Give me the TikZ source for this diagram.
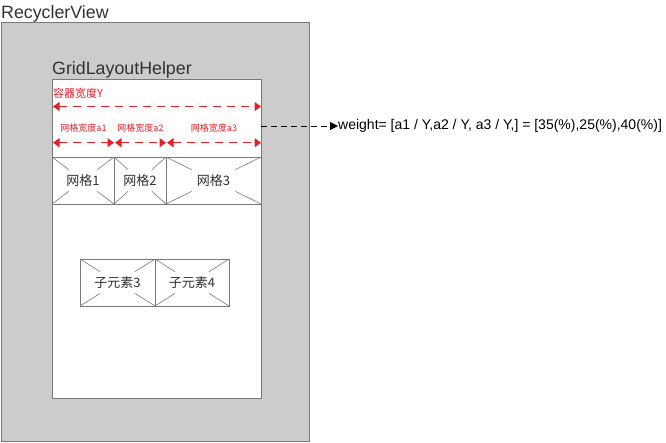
\documentclass[tikz,border=0pt]{standalone}
\usepackage{fontspec}
\setmainfont{Liberation Sans}
\newfontfamily\cjk{Noto Sans CJK SC}
\usetikzlibrary{arrows.meta,calc}
\definecolor{redline}{RGB}{230,30,40}
\definecolor{boxgray}{RGB}{204,204,204}
\definecolor{edgegray}{RGB}{120,120,120}
\definecolor{txt}{RGB}{50,50,50}
\begin{document}
\begin{tikzpicture}[x=1pt,y=-1pt,
  outerbox/.style={draw=edgegray,fill=boxgray,line width=1pt,inner sep=0,outer sep=0,anchor=north west},
  innerbox/.style={draw=edgegray,fill=white,line width=1pt,inner sep=0,outer sep=0,anchor=north west},
  cellbox/.style={draw=edgegray,fill=white,line width=1pt,inner sep=0,outer sep=0,anchor=north west,minimum height=47pt},
  crossline/.style={draw=edgegray,line width=0.6pt},
  celllabel/.style={inner sep=0pt,text=txt,font=\cjk\fontsize{13}{13}\selectfont},
  title/.style={anchor=base west,inner sep=0,text=txt,font=\fontsize{17.8}{17.8}\selectfont},
  redarrow/.style={draw=redline,line width=1.3pt,dash pattern=on 8pt off 6pt,{Triangle[length=6.5pt,width=9pt]}-{Triangle[length=6.5pt,width=9pt]}},
  redlabel/.style={text=redline,inner sep=0},
  blackarrow/.style={draw=black,line width=1pt,dash pattern=on 6pt off 4pt,-{Triangle[length=8pt,width=8pt]}}
]
\useasboundingbox (0,0) rectangle (666,442);
% containers
\node[outerbox,minimum width=308pt,minimum height=419pt] (rv) at (1,22) {};
\node[title] (rvt) at (1,18) {RecyclerView};
\node[innerbox,minimum width=209pt,minimum height=319pt] (glh) at (52,79) {};
\node[title] (glht) at (52,74) {GridLayoutHelper};
% grid cells
\node[cellbox,minimum width=62pt] (c1) at (52,157) {};
\node[cellbox,minimum width=52pt] (c2) at (114,157) {};
\node[cellbox,minimum width=95pt] (c3) at (166,157) {};
\node[cellbox,minimum width=75pt] (e3) at (80,259) {};
\node[cellbox,minimum width=74pt] (e4) at (155,259) {};
\foreach \c in {c1,c2,c3,e3,e4}{
  \draw[crossline] (\c.north west) -- ($(\c.north west)!0.27!(\c.south east)$);
  \draw[crossline] (\c.south east) -- ($(\c.south east)!0.27!(\c.north west)$);
  \draw[crossline] (\c.north east) -- ($(\c.north east)!0.27!(\c.south west)$);
  \draw[crossline] (\c.south west) -- ($(\c.south west)!0.27!(\c.north east)$);
}
\node[celllabel] (l1) at (c1.center) {网格1};
\node[celllabel] (l2) at (c2.center) {网格2};
\node[celllabel] (l3) at (c3.center) {网格3};
\node[celllabel] (l4) at (e3.center) {子元素3};
\node[celllabel] (l5) at (e4.center) {子元素4};
% width arrows
\coordinate (y1a) at (53,106.5);
\coordinate (y1b) at (261,106.5);
\draw[redarrow] (y1a) -- (y1b);
\node[redlabel,anchor=west,font=\cjk\fontsize{11}{11}\selectfont] (ly) at (53,93.5) {容器宽度Y};
\coordinate (p0) at (53,142.7);
\coordinate (p1) at (114,142.7);
\coordinate (p1b) at (115,142.7);
\coordinate (p2) at (166,142.7);
\coordinate (p2b) at (167,142.7);
\coordinate (p3) at (261,142.7);
\draw[redarrow] (p0) -- (p1);
\draw[redarrow] (p1b) -- (p2);
\draw[redarrow] (p2b) -- (p3);
\node[redlabel,font=\cjk\fontsize{9}{9}\selectfont] (la1) at (83.5,128) {网格宽度a1};
\node[redlabel,font=\cjk\fontsize{9}{9}\selectfont] (la2) at (140.5,128) {网格宽度a2};
\node[redlabel,font=\cjk\fontsize{9}{9}\selectfont] (la3) at (214,128) {网格宽度a3};
% weight formula
\node[anchor=west,inner sep=0,text=black,font=\fontsize{14}{14}\selectfont] (w) at (338,126) {weight= [a1 / Y,a2 / Y, a3 / Y,] = [35(\%),25(\%),40(\%)]};
\coordinate (ws) at (261,126);
\draw[blackarrow] (ws) -- (w.west);
\end{tikzpicture}
\end{document}
